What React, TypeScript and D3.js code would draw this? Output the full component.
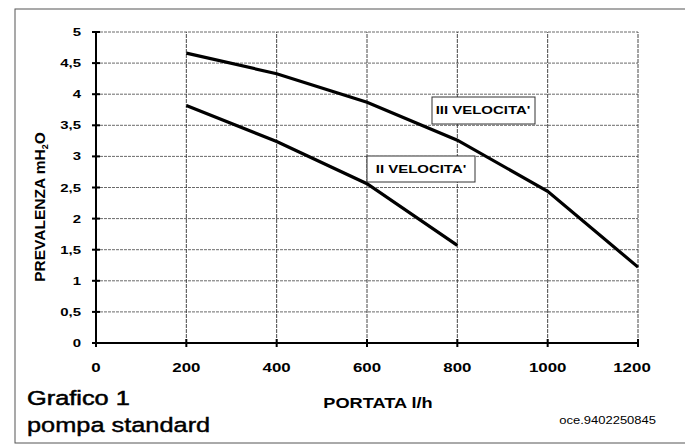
import React from "react";
import * as d3 from "d3";

const xTicks = [0, 200, 400, 600, 800, 1000, 1200];
const yTicks = [0, 0.5, 1, 1.5, 2, 2.5, 3, 3.5, 4, 4.5, 5];
const portataIII = [200, 400, 600, 800, 1000, 1200];
const prevIII = [4.66, 4.33, 3.87, 3.26, 2.44, 1.22];
const portataII = [200, 400, 600, 800];
const prevII = [3.82, 3.24, 2.56, 1.57];

const W = 685, H = 445;
const x = d3.scaleLinear().domain([0, 1200]).range([96, 638]);
const y = d3.scaleLinear().domain([0, 5]).range([343, 32]);
const fmt = (v: number) => String(v).replace(".", ",");
const SX = 1.3;

function T(props: { x: number; y: number; anchor?: string; size: number; bold?: boolean; sx?: number; stroke?: number; children: React.ReactNode }) {
  const { x, y, anchor = "start", size, bold, sx = SX, stroke, children } = props;
  return (
    <g transform={`translate(${x},${y}) scale(${sx},1)`}>
      <text x={0} y={0} textAnchor={anchor as any} fontSize={size} fontWeight={bold ? "bold" : "normal"}
        stroke={stroke ? "#000" : "none"} strokeWidth={stroke || 0}>{children}</text>
    </g>
  );
}

export default function App() {
  const line = d3.line<[number, number]>().x(d => x(d[0])).y(d => y(d[1]));
  const dIII = line(portataIII.map((p, i) => [p, prevIII[i]] as [number, number])) || "";
  const dII = line(portataII.map((p, i) => [p, prevII[i]] as [number, number])) || "";
  const font = "Arial, 'Liberation Sans', sans-serif";
  return (
    <svg width={W} height={H} style={{ position: "absolute", left: 0, top: 0, background: "#fff" }} fontFamily={font}>
      <rect x={0} y={0} width={W} height={H} fill="#fff" />
      <rect x={15} y={9} width={700} height={434} fill="none" stroke="#555" strokeWidth={1} />
      {yTicks.slice(1).map(t => (
        <line key={"gy" + t} x1={x(0)} x2={x(1200)} y1={y(t)} y2={y(t)} stroke="#444" strokeWidth={0.8} strokeDasharray="3 1" />
      ))}
      {xTicks.slice(1).map(t => (
        <line key={"gx" + t} x1={x(t)} x2={x(t)} y1={y(0)} y2={y(5)} stroke="#333" strokeWidth={0.9} strokeDasharray="4 1" />
      ))}
      <line x1={x(0)} x2={x(0)} y1={y(0) + 3} y2={y(5)} stroke="#000" strokeWidth={2} />
      <line x1={x(0) - 3} x2={x(1200)} y1={y(0)} y2={y(0)} stroke="#000" strokeWidth={2} />
      {yTicks.map(t => (
        <g key={"ty" + t}>
          <line x1={x(0) - 4} x2={x(0) + 4} y1={y(t)} y2={y(t)} stroke="#000" strokeWidth={2} />
          <T x={81} y={y(t) + 4} anchor="end" size={11.5} bold>{fmt(t)}</T>
        </g>
      ))}
      {xTicks.map(t => (
        <g key={"tx" + t}>
          <line x1={x(t)} x2={x(t)} y1={y(0) - 4} y2={y(0) + 4} stroke="#000" strokeWidth={2} />
          <T x={x(t) - (t === 1200 ? 6 : 0)} y={372} anchor="middle" size={13} bold>{t}</T>
        </g>
      ))}
      <path d={dIII} fill="none" stroke="#000" strokeWidth={3.2} />
      <path d={dII} fill="none" stroke="#000" strokeWidth={3.2} />
      <rect x={432} y={97} width={103} height={27} fill="#fff" stroke="#333" strokeWidth={1} />
      <T x={483} y={114} anchor="middle" size={11.5} bold>III VELOCITA'</T>
      <rect x={367} y={156} width={108} height={26} fill="#fff" stroke="#333" strokeWidth={1} />
      <T x={421} y={173} anchor="middle" size={11.5} bold>II VELOCITA'</T>
      <text transform="translate(45,207) rotate(-90)" textAnchor="middle" fontSize={15.5} fontWeight="bold">
        PREVALENZA mH<tspan fontSize={9} dy={3}>2</tspan><tspan dy={-3}>O</tspan>
      </text>
      <T x={378} y={408} anchor="middle" size={14} bold>PORTATA l/h</T>
      <T x={27} y={405} size={19.5} stroke={0.5}>Grafico 1</T>
      <T x={27} y={432} size={19.5} stroke={0.4}>pompa standard</T>
      <T x={656} y={424} anchor="end" size={10}>oce.9402250845</T>
    </svg>
  );
}
